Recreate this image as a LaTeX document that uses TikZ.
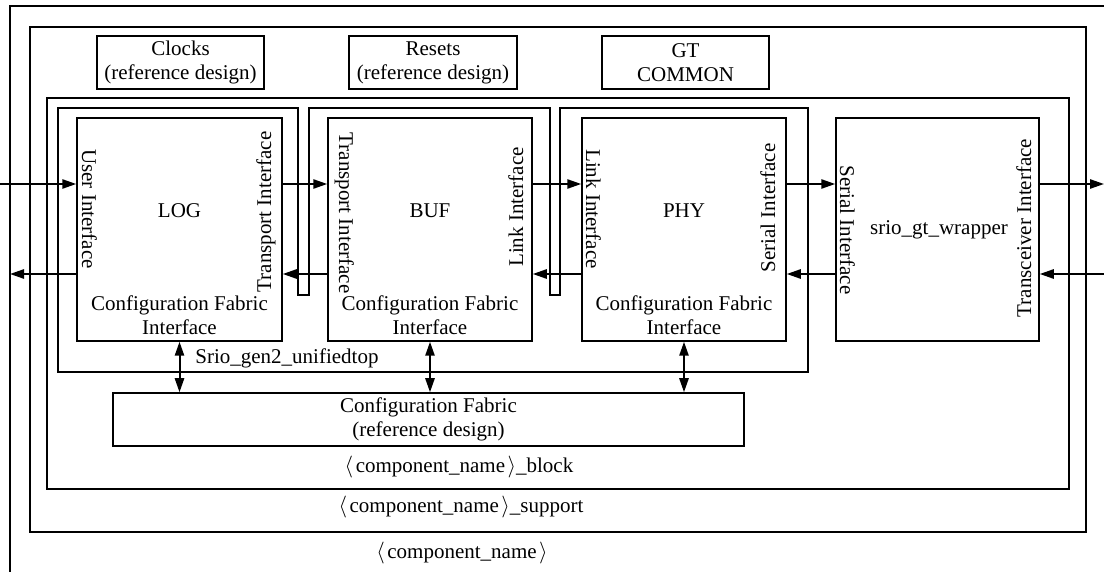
\documentclass[tikz,border=0pt]{standalone}
\usepackage{fontspec}
\setmainfont{Liberation Serif}
\usetikzlibrary{arrows.meta}
\newcommand{\lab}{$\langle$\kern0.12em}
\newcommand{\rab}{\kern0.12em$\rangle$}
\begin{document}
\begin{tikzpicture}[x=0.5pt,y=-0.5pt,font=\fontsize{10.5}{12}\selectfont]
\tikzset{
  box/.style={draw, line width=0.75pt, inner sep=0pt, align=center},
  frame/.style={line width=0.75pt},
  lbl/.style={inner sep=0pt, align=center},
  arr/.style={line width=1pt, -{Triangle[length=7pt,width=4.6pt]}},
  darr/.style={line width=1pt, {Triangle[length=7pt,width=4.6pt]}-{Triangle[length=7pt,width=4.6pt]}},
}
\useasboundingbox (0,0) rectangle (1104,572);
\clip (0,0) rectangle (1104,572);
% containers
\draw[frame] (1120,6) -- (10,6) -- (10,590);
\draw[frame] (30,27) rectangle (1086,532);
\draw[frame] (47,98) rectangle (1069,489);
\draw[frame] (58,108) -- (298,108) -- (298,295) -- (309,295) -- (309,108)
  -- (550,108) -- (550,295) -- (560,295) -- (560,108) -- (808,108)
  -- (808,372) -- (58,372) -- cycle;
% top boxes
\node[box, minimum width=83.5pt, minimum height=26.5pt] (CLK) at (180.5,62.5) {Clocks\\(reference design)};
\node[box, minimum width=84pt, minimum height=26.5pt] (RST) at (433,62.5) {Resets\\(reference design)};
\node[box, minimum width=83.5pt, minimum height=26.5pt] (GTC) at (685.5,62.5) {GT\\COMMON};
% main blocks
\node[box, minimum width=102.5pt, minimum height=111.5pt] (LOG) at (179.5,229.5) {};
\node[box, minimum width=102pt, minimum height=111.5pt] (BUF) at (430,229.5) {};
\node[box, minimum width=102pt, minimum height=111.5pt] (PHY) at (684,229.5) {};
\node[box, minimum width=101.5pt, minimum height=111.5pt] (WRAP) at (937.5,229.5) {};
\node[box, minimum width=315.5pt, minimum height=26.5pt] (CF) at (428.5,419.5) {Configuration Fabric\\(reference design)};
% block titles
\node[lbl, anchor=base] (tLOG) at (179.5,218) {LOG};
\node[lbl, anchor=base] (tBUF) at (430,218) {BUF};
\node[lbl, anchor=base] (tPHY) at (684,218) {PHY};
\node[lbl, anchor=base] (tWRAP) at (939,235) {srio\_gt\_wrapper};
\node[lbl, anchor=south] (cLOG) at (179.5,335) {Configuration Fabric\\Interface};
\node[lbl, anchor=south] (cBUF) at (430,335) {Configuration Fabric\\Interface};
\node[lbl, anchor=south] (cPHY) at (684,335) {Configuration Fabric\\Interface};
% interface labels
\node[lbl, rotate=-90, anchor=base] (iUser) at (82,209) {User Interface};
\node[lbl, rotate=90, anchor=base] (iT1) at (271,212) {Transport Interface};
\node[lbl, rotate=-90, anchor=base] (iT2) at (339,213) {Transport Interface};
\node[lbl, rotate=90, anchor=base] (iL1) at (523,207) {Link Interface};
\node[lbl, rotate=-90, anchor=base] (iL2) at (586,209) {Link Interface};
\node[lbl, rotate=90, anchor=base] (iS1) at (775,208) {Serial Interface};
\node[lbl, rotate=-90, anchor=base] (iS2) at (840,230) {Serial Interface};
\node[lbl, rotate=90, anchor=base] (iTr) at (1031,228) {Transceiver Interface};
% container labels
\node[lbl, anchor=base west] (tTop) at (195,364) {Srio\_gen2\_unifiedtop};
\node[lbl, anchor=base] (tBlk) at (459,473) {\lab component\_name\rab\_block};
\node[lbl, anchor=base] (tSup) at (461,512) {\lab component\_name\rab\_support};
\node[lbl, anchor=base] (tComp) at (462,558) {\lab component\_name\rab};
% connectors
\coordinate (rowA) at (0,184);
\coordinate (rowB) at (0,274);
\coordinate (inL) at (0,184);
\coordinate (outL) at (10,274);
\coordinate (outR) at (1104,184);
\coordinate (inR) at (1104,274);
\draw[arr] (inL) -- (LOG.west |- rowA);
\draw[arr] (LOG.west |- rowB) -- (outL);
\draw[arr] (LOG.east |- rowA) -- (BUF.west |- rowA);
\draw[arr] (BUF.west |- rowB) -- (LOG.east |- rowB);
\draw[arr] (BUF.east |- rowA) -- (PHY.west |- rowA);
\draw[arr] (PHY.west |- rowB) -- (BUF.east |- rowB);
\draw[arr] (PHY.east |- rowA) -- (WRAP.west |- rowA);
\draw[arr] (WRAP.west |- rowB) -- (PHY.east |- rowB);
\draw[arr] (WRAP.east |- rowA) -- (outR);
\draw[arr] (inR) -- (WRAP.east |- rowB);
\draw[darr] (LOG.south) -- (LOG.south |- CF.north);
\draw[darr] (BUF.south) -- (BUF.south |- CF.north);
\draw[darr] (PHY.south) -- (PHY.south |- CF.north);
\end{tikzpicture}
\end{document}
